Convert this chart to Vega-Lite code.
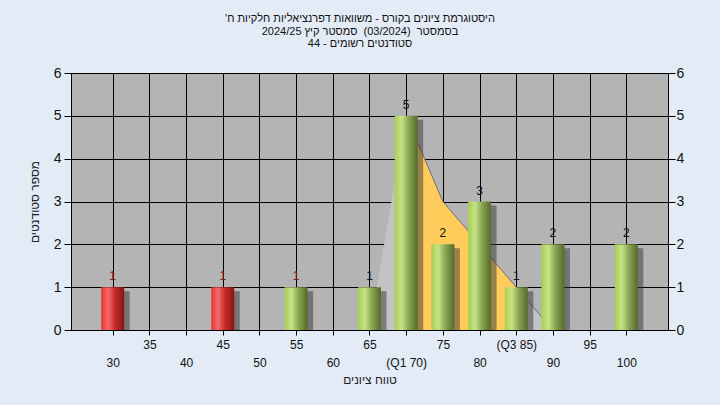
{
  "$schema": "https://vega.github.io/schema/vega-lite/v6.json",
  "width": 597,
  "height": 257,
  "autosize": "none",
  "padding": {"left": 71, "top": 73, "right": 52, "bottom": 75},
  "background": "#e2ebf6",
  "title": {
    "text": [
      "\u202bהיסטוגרמת ציונים בקורס - משוואות דפרנציאליות חלקיות ח'\u202c",
      "\u202bבסמסטר \u00a0(03/2024)\u00a0 סמסטר קיץ 2024/25\u202c",
      "\u202bסטודנטים רשומים - 44\u202c"
    ],
    "font": "Liberation Sans",
    "fontSize": 11,
    "fontWeight": "normal",
    "color": "#111111",
    "lineHeight": 12.5,
    "anchor": "middle",
    "dx": -9.5,
    "offset": 17
  },
  "datasets": {
    "bars": [
      {"grade": 30, "count": 1},
      {"grade": 45, "count": 1},
      {"grade": 55, "count": 1},
      {"grade": 65, "count": 1},
      {"grade": 70, "count": 5},
      {"grade": 75, "count": 2},
      {"grade": 80, "count": 3},
      {"grade": 85, "count": 1},
      {"grade": 90, "count": 2},
      {"grade": 100, "count": 2}
    ],
    "dist": [
      {"grade": 65, "count": 0},
      {"grade": 70, "count": 5},
      {"grade": 75, "count": 3},
      {"grade": 85, "count": 1},
      {"grade": 90, "count": 0}
    ],
    "iqr": [
      {"grade": 70, "count": 5},
      {"grade": 75, "count": 3},
      {"grade": 85, "count": 1}
    ],
    "edge": [
      {"grade": 70, "count": 5},
      {"grade": 75, "count": 3},
      {"grade": 85, "count": 1},
      {"grade": 90, "count": 0}
    ]
  },
  "layer": [
    {
      "encoding": {
        "x": {
          "field": "grade",
          "type": "quantitative",
          "scale": {"domain": [25, 105], "nice": false, "zero": false},
          "axis": {
            "values": [30, 35, 40, 45, 50, 55, 60, 65, 70, 75, 80, 85, 90, 95, 100],
            "labelExpr": "datum.value == 70 ? ['', '(Q1 70)'] : datum.value == 85 ? '(Q3 85)' : (datum.value % 10 == 0 ? ['', datum.label] : datum.label)",
            "labelLineHeight": 18,
            "labelFontSize": 12,
            "labelOverlap": false,
            "labelBound": false,
            "labelFlush": false,
            "tickSize": 5,
            "labelPadding": 4,
            "title": "טווח ציונים",
            "titleFontSize": 12,
            "titlePadding": 6,
            "grid": true
          }
        },
        "y": {
          "field": "count",
          "type": "quantitative",
          "scale": {"domain": [0, 6], "nice": false},
          "axis": {
            "values": [0, 1, 2, 3, 4, 5, 6],
            "labelFontSize": 14,
            "tickSize": 7,
            "labelPadding": 3,
            "grid": true,
            "title": "מספר סטודנטים",
            "titleFontSize": 12,
            "titlePadding": 12
          }
        }
      },
      "layer": [
        {
          "data": {"name": "dist"},
          "mark": {"type": "area", "color": "#c3c3c3", "opacity": 1}
        },
        {
          "data": {"name": "iqr"},
          "mark": {"type": "area", "color": "#ffcc5c", "opacity": 1}
        },
        {
          "data": {"name": "edge"},
          "mark": {"type": "line", "color": "#6e6e6e", "strokeWidth": 1}
        },
        {
          "data": {"name": "bars"},
          "mark": {"type": "bar", "size": 24, "color": "#333333", "opacity": 0.5, "xOffset": 5, "yOffset": 4, "clip": true}
        },
        {
          "data": {"name": "bars"},
          "transform": [{"filter": "datum.grade < 50"}],
          "mark": {
            "type": "bar",
            "size": 23,
            "color": {
              "gradient": "linear", "x1": 0, "y1": 0, "x2": 1, "y2": 0,
              "stops": [
                {"offset": 0, "color": "#e83434"},
                {"offset": 0.3, "color": "#f56a6a"},
                {"offset": 0.6, "color": "#c82a2a"},
                {"offset": 1, "color": "#861616"}
              ]
            }
          }
        },
        {
          "data": {"name": "bars"},
          "transform": [{"filter": "datum.grade >= 50"}],
          "mark": {
            "type": "bar",
            "size": 23,
            "color": {
              "gradient": "linear", "x1": 0, "y1": 0, "x2": 1, "y2": 0,
              "stops": [
                {"offset": 0, "color": "#a6cf4e"},
                {"offset": 0.3, "color": "#c7e288"},
                {"offset": 0.6, "color": "#8aa752"},
                {"offset": 1, "color": "#55692c"}
              ]
            }
          }
        },
        {
          "data": {"name": "bars"},
          "mark": {"type": "text", "baseline": "bottom", "dy": -4, "fontSize": 12, "font": "Liberation Sans"},
          "encoding": {
            "text": {"field": "count", "type": "quantitative"},
            "color": {"condition": {"test": "datum.grade < 60", "value": "#7a1a1a"}, "value": "#111111"}
          }
        },
        {
          "data": {"values": [{"label": "במשימה : Final_B"}]},
          "mark": {"type": "text", "fontSize": 12, "font": "Liberation Sans", "color": "#2a1a3a", "baseline": "middle", "align": "center"},
          "encoding": {
            "x": {"datum": 63.2, "type": "quantitative"},
            "y": {"datum": 5.72, "type": "quantitative"},
            "text": {"field": "label"}
          }
        }
      ]
    },
    {
      "data": {"values": [{"v": 0}]},
      "mark": {"type": "rule", "opacity": 0},
      "encoding": {
        "y": {
          "field": "v",
          "type": "quantitative",
          "scale": {"domain": [0, 6], "nice": false},
          "axis": {
            "orient": "right",
            "values": [0, 1, 2, 3, 4, 5, 6],
            "labelFontSize": 14,
            "tickSize": 7,
            "labelPadding": 1,
            "grid": false,
            "title": null
          }
        }
      }
    }
  ],
  "resolve": {"scale": {"y": "independent"}, "axis": {"y": "independent"}},
  "config": {
    "view": {"fill": "#b4b4b4", "stroke": "#000000", "strokeWidth": 1},
    "axis": {
      "domainColor": "#000000",
      "tickColor": "#000000",
      "labelColor": "#111111",
      "titleColor": "#222222",
      "labelFont": "Liberation Sans",
      "titleFont": "Liberation Sans",
      "titleFontWeight": "normal",
      "gridColor": "#000000",
      "gridOpacity": 1,
      "gridWidth": 1
    }
  }
}
